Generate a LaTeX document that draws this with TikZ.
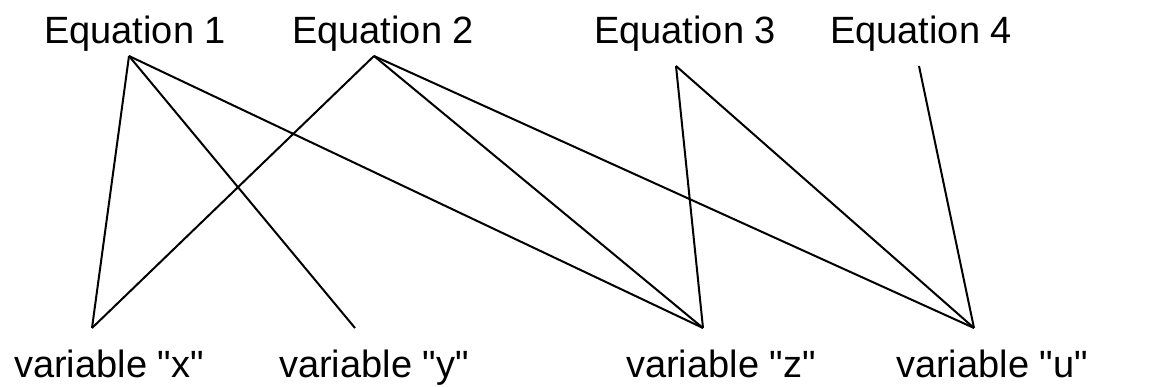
\documentclass[tikz,border=0pt]{standalone}
\usepackage{fontspec}
\setmainfont{Liberation Sans}
\newcommand{\dq}{\XeTeXglyph\XeTeXcharglyph"22\relax}
\begin{document}
\begin{tikzpicture}[x=1pt,y=-1pt,
  lbl/.style={anchor=base,inner sep=0pt,font=\fontsize{38}{41}\selectfont},
  edge/.style={line width=2pt,line join=miter}]
\useasboundingbox (0,0) rectangle (1154,387);
\node[lbl] (e1) at (135,44) {Equation 1};
\node[lbl] (e2) at (383,44) {Equation 2};
\node[lbl] (e3) at (685,44) {Equation 3};
\node[lbl] (e4) at (921,44) {Equation 4};
\node[lbl] (vx) at (109,377) {variable \dq x\dq};
\node[lbl] (vy) at (374,377) {variable \dq y\dq};
\node[lbl] (vz) at (721,377) {variable \dq z\dq};
\node[lbl] (vu) at (992,377) {variable \dq u\dq};
\coordinate (p1) at (129,56);
\coordinate (p2) at (374,56);
\coordinate (p3) at (676,66);
\coordinate (p4) at (919,66);
\coordinate (qx) at (92,328);
\coordinate (qy) at (355,328);
\coordinate (qz) at (703,328);
\coordinate (qu) at (974,328);
\draw[edge] (p1) -- (qx);
\draw[edge] (p1) -- (qy);
\draw[edge] (p1) -- (qz);
\draw[edge] (p2) -- (qx);
\draw[edge] (p2) -- (qz);
\draw[edge] (p2) -- (qu);
\draw[edge] (p3) -- (qz);
\draw[edge] (p3) -- (qu);
\draw[edge] (p4) -- (qu);
\end{tikzpicture}
\end{document}
